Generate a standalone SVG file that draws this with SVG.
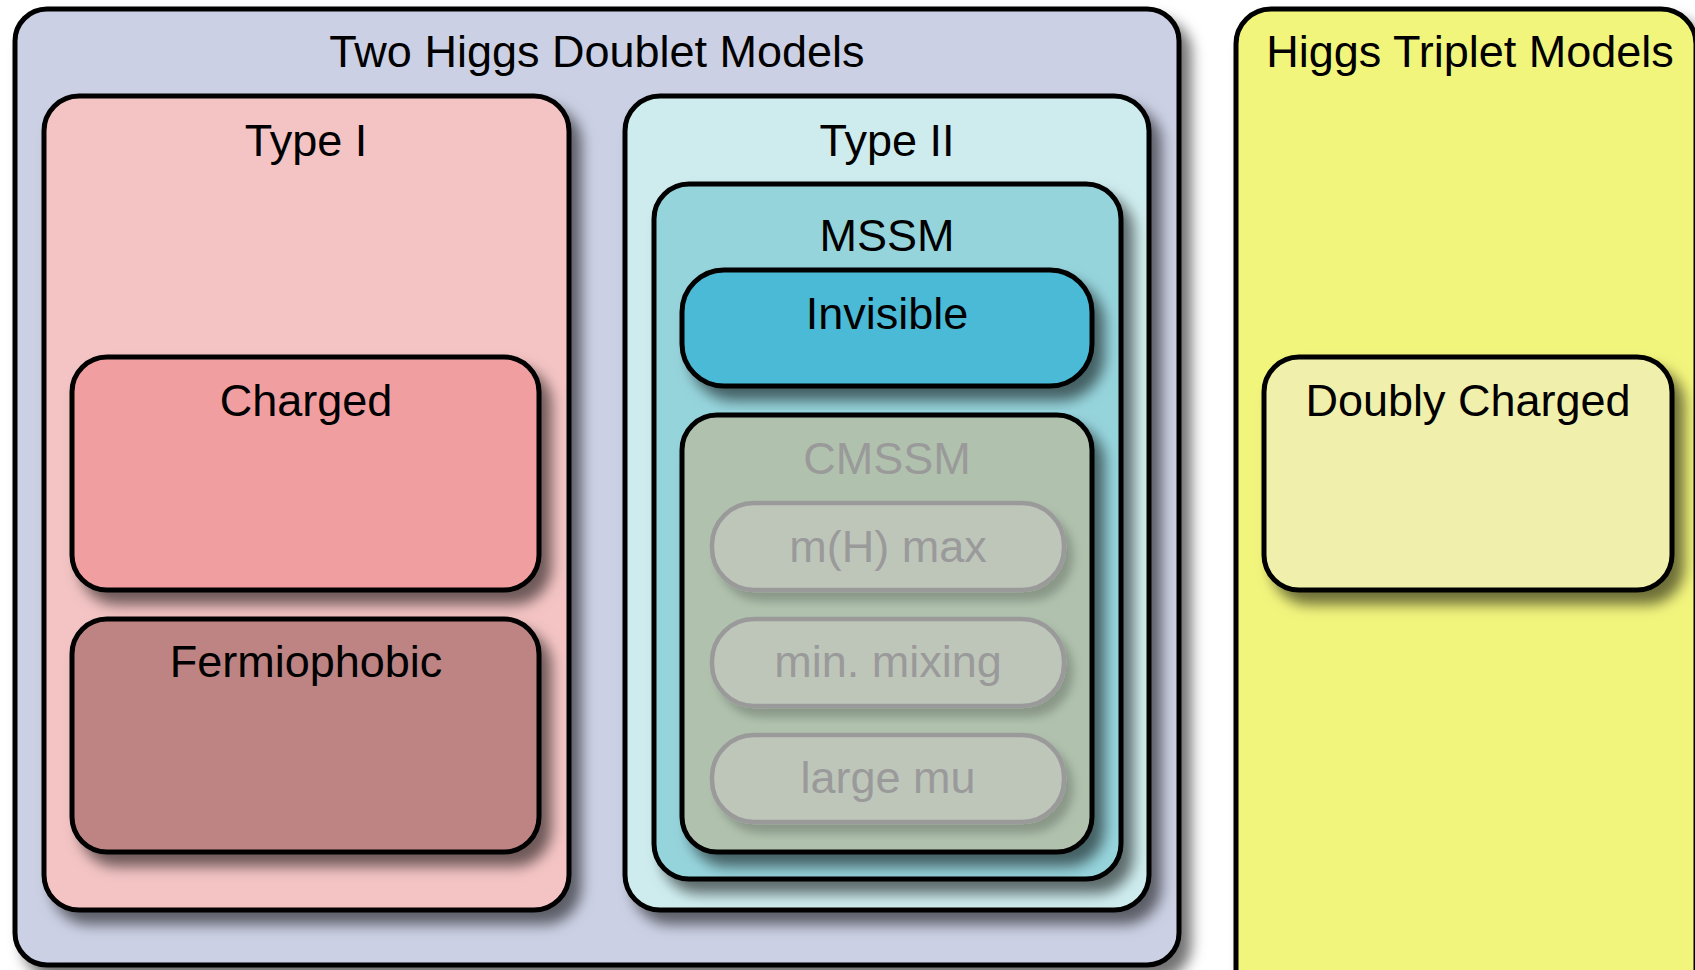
<svg xmlns="http://www.w3.org/2000/svg" width="1695" height="970" viewBox="0 0 1695 970">
  <defs>
    <filter id="shadow" x="-10%" y="-10%" width="130%" height="130%">
      <feDropShadow dx="10" dy="12" stdDeviation="7" flood-color="#000" flood-opacity="0.55"/>
    </filter>
    <filter id="shadow-soft" x="-10%" y="-10%" width="130%" height="130%">
      <feDropShadow dx="7" dy="9" stdDeviation="5" flood-color="#000" flood-opacity="0.22"/>
    </filter>
  </defs>
  <style>
    .box { stroke: #000; stroke-width: 5; filter: url(#shadow); }
    .sub { stroke: #9a9a9a; stroke-width: 4.5; fill: #bec6ba; filter: url(#shadow-soft); }
    .label { font-family: "Liberation Sans", Arial, sans-serif; font-size: 45px; text-anchor: middle; fill: #000; }
    .faded { fill: #9a9a9a; }
  </style>

  <rect width="1695" height="970" fill="#ffffff"/>

  <!-- Two Higgs Doublet Models container -->
  <g id="two-higgs-doublet">
    <rect class="box" x="15" y="9" width="1164" height="956" rx="32" fill="#cbd0e4"/>
    <text class="label" x="597" y="67">Two Higgs Doublet Models</text>
  </g>

  <!-- Type I branch -->
  <g id="type-1">
    <rect class="box" x="44" y="96" width="525" height="814" rx="35" fill="#f4c4c4"/>
    <text class="label" x="306" y="156">Type I</text>
  </g>
  <g id="charged">
    <rect class="box" x="72" y="357" width="467" height="233" rx="35" fill="#f09ea0"/>
    <text class="label" x="306" y="416">Charged</text>
  </g>
  <g id="fermiophobic">
    <rect class="box" x="72" y="619" width="467" height="233" rx="35" fill="#be8483"/>
    <text class="label" x="306" y="677">Fermiophobic</text>
  </g>

  <!-- Type II branch -->
  <g id="type-2">
    <rect class="box" x="625" y="96" width="524" height="814" rx="35" fill="#ceecee"/>
    <text class="label" x="887" y="156">Type II</text>
  </g>
  <g id="mssm">
    <rect class="box" x="654" y="184" width="467" height="695" rx="35" fill="#96d4dc"/>
    <text class="label" x="887" y="251">MSSM</text>
  </g>
  <g id="invisible">
    <rect class="box" x="682" y="270" width="410" height="116" rx="42" fill="#4cbad6"/>
    <text class="label" x="887" y="329">Invisible</text>
  </g>
  <g id="cmssm">
    <rect class="box" x="682" y="415" width="410" height="437" rx="35" fill="#b0c2ae"/>
    <text class="label faded" x="887" y="474">CMSSM</text>
  </g>
  <g id="mh-max">
    <rect class="sub" x="712" y="503" width="352" height="87" rx="42"/>
    <text class="label faded" x="888" y="562">m(H) max</text>
  </g>
  <g id="min-mixing">
    <rect class="sub" x="712" y="619" width="352" height="87" rx="42"/>
    <text class="label faded" x="888" y="677">min. mixing</text>
  </g>
  <g id="large-mu">
    <rect class="sub" x="712" y="735" width="352" height="87" rx="42"/>
    <text class="label faded" x="888" y="793">large mu</text>
  </g>

  <!-- Higgs Triplet Models container -->
  <g id="higgs-triplet">
    <rect class="box" x="1236" y="9" width="460" height="1000" rx="35" fill="#f2f57c"/>
    <text class="label" x="1470" y="67">Higgs Triplet Models</text>
  </g>
  <g id="doubly-charged">
    <rect class="box" x="1264" y="357" width="408" height="233" rx="35" fill="#f0f0ac"/>
    <text class="label" x="1468" y="416">Doubly Charged</text>
  </g>

  <g id="connectors"/>
</svg>
